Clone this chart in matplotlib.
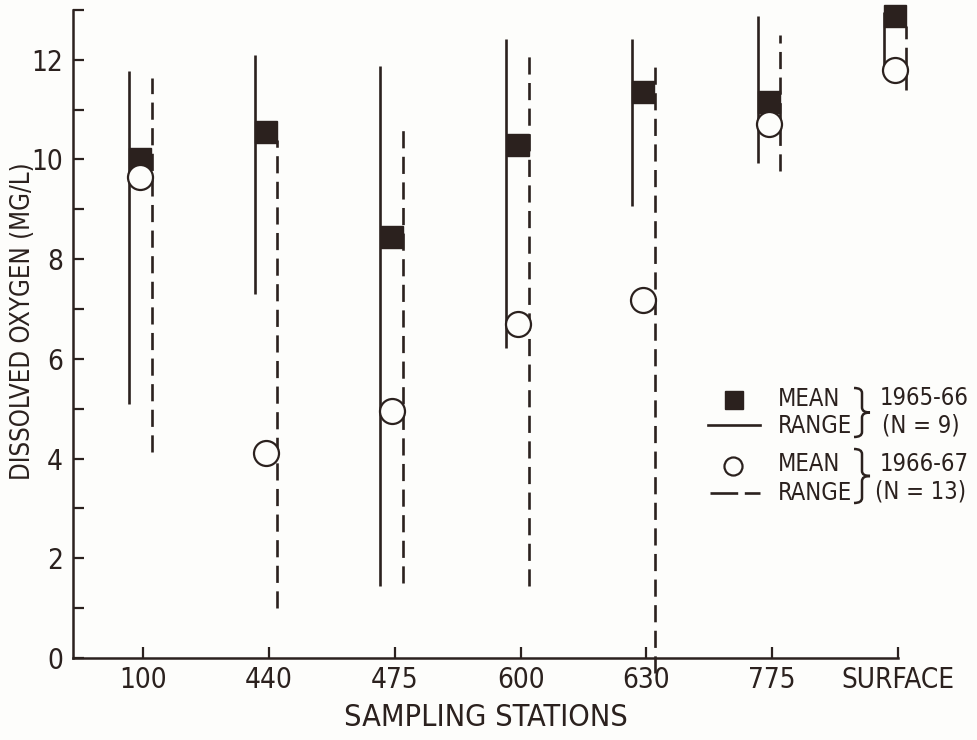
import matplotlib
matplotlib.use("Agg")
import matplotlib.pyplot as plt
from matplotlib.lines import Line2D
from matplotlib.path import Path
from matplotlib.patches import PathPatch

plt.rcParams["font.family"] = ["DejaVu Sans"]
plt.rcParams["font.stretch"] = "condensed"

# ---- data ----
stations = ["100", "440", "475", "600", "630", "775", "SURFACE"]

mean_6566 = [10.0, 10.55, 8.45, 10.3, 11.35, 11.15, 12.87]
low_6566 = [5.1, 7.3, 1.45, 6.22, 9.07, 9.93, 11.85]
high_6566 = [11.77, 12.09, 11.87, 12.42, 12.42, 12.87, 12.95]

mean_6667 = [9.65, 4.12, 4.95, 6.7, 7.18, 10.72, 11.8]
low_6667 = [4.14, 1.0, 1.5, 1.45, -0.3, 9.77, 11.4]
high_6667 = [11.63, 10.4, 10.7, 12.13, 11.98, 12.5, 12.68]

ink = "#2b211e"
paper = "#fdfdfb"

fig = plt.figure(figsize=(9.78, 7.4), dpi=100, facecolor=paper)
ax = fig.add_axes([0.0746, 0.111, 0.8436, 0.8755], facecolor=paper)

x = list(range(len(stations)))
x_solid = [i - 0.115 for i in x]
x_dash = [i + 0.065 for i in x]
x_mark = [i - 0.025 for i in x]

# ranges
ax.vlines(x_solid, low_6566, high_6566, colors=ink, linewidth=1.9,
          clip_on=False, zorder=2)
ax.vlines(x_dash, low_6667, high_6667, colors=ink, linewidth=1.9,
          linestyles=(0, (6.5, 3.2)), clip_on=False, zorder=2)

# means
ax.plot(x_mark, mean_6566, linestyle="none", marker="s", markersize=15.5,
        markerfacecolor=ink, markeredgecolor=ink, zorder=3, clip_on=False)
ax.plot(x_mark, mean_6667, linestyle="none", marker="o", markersize=18,
        markerfacecolor=paper, markeredgecolor=ink, markeredgewidth=1.6,
        zorder=4, clip_on=False)

ax.set_xlim(-0.56, 6.0)
ax.set_ylim(0, 13)
ax.set_xticks(x)
ax.set_xticklabels(stations)
ax.set_yticks([0, 2, 4, 6, 8, 10, 12])
ax.set_yticks([1, 3, 5, 7, 9, 11, 13], minor=True)

for s in ["top", "right"]:
    ax.spines[s].set_visible(False)
for s in ["left", "bottom"]:
    ax.spines[s].set_color(ink)
    ax.spines[s].set_linewidth(1.8)

ax.tick_params(axis="both", which="both", direction="in", length=8,
               width=1.6, color=ink, labelcolor=ink, labelsize=20)
ax.tick_params(axis="x", pad=6)
ax.tick_params(axis="y", pad=7)

ax.set_xlabel("SAMPLING STATIONS", fontsize=22, color=ink)
ax.xaxis.set_label_coords(0.5, -0.07)
ax.set_ylabel("DISSOLVED OXYGEN (MG/L)", fontsize=18.5, color=ink)
ax.yaxis.set_label_coords(-0.045, 0.52)


# ---- hand-drawn style key ----
def fx(px):
    return px / 978.0


def fy(py):
    return 1.0 - py / 740.0


def brace(x0, top, bot, w=8, r=5):
    mid = (top + bot) / 2.0
    pts = [
        (x0 - w, top), (x0, top), (x0, top + r),
        (x0, mid - r), (x0, mid), (x0 + w, mid),
        (x0, mid), (x0, mid + r),
        (x0, bot - r), (x0, bot), (x0 - w, bot),
    ]
    codes = [Path.MOVETO, Path.CURVE3, Path.CURVE3,
             Path.LINETO, Path.CURVE3, Path.CURVE3,
             Path.CURVE3, Path.CURVE3,
             Path.LINETO, Path.CURVE3, Path.CURVE3]
    path = Path([(fx(a), fy(b)) for a, b in pts], codes)
    fig.add_artist(PathPatch(path, facecolor="none", edgecolor=ink,
                             linewidth=1.8, transform=fig.transFigure))


key_fs = 17
fig.add_artist(Line2D([fx(734)], [fy(400)], marker="s", markersize=13,
                      color=ink, transform=fig.transFigure))
fig.add_artist(Line2D([fx(708), fx(760)], [fy(425), fy(425)], color=ink,
                      linewidth=1.9, transform=fig.transFigure))
fig.add_artist(Line2D([fx(733)], [fy(466)], marker="o", markersize=13,
                      markerfacecolor=paper, markeredgecolor=ink,
                      markeredgewidth=1.6, transform=fig.transFigure))
fig.add_artist(Line2D([fx(710), fx(760)], [fy(493), fy(493)], color=ink,
                      linewidth=1.9, linestyle=(0, (10.5, 2.5)),
                      transform=fig.transFigure))

for label, py in [("MEAN", 399), ("RANGE", 426), ("MEAN", 464), ("RANGE", 493)]:
    fig.text(fx(778), fy(py), label, fontsize=key_fs, color=ink,
             ha="left", va="center")

brace(862, 388, 437)
brace(862, 449, 503)

fig.text(fx(924), fy(398), "1965-66", fontsize=key_fs, color=ink,
         ha="center", va="center")
fig.text(fx(921), fy(425), "(N = 9)", fontsize=key_fs, color=ink,
         ha="center", va="center")
fig.text(fx(924), fy(464), "1966-67", fontsize=key_fs, color=ink,
         ha="center", va="center")
fig.text(fx(921), fy(492), "(N = 13)", fontsize=key_fs, color=ink,
         ha="center", va="center")

fig.savefig("out.png", dpi=100, facecolor=paper)
